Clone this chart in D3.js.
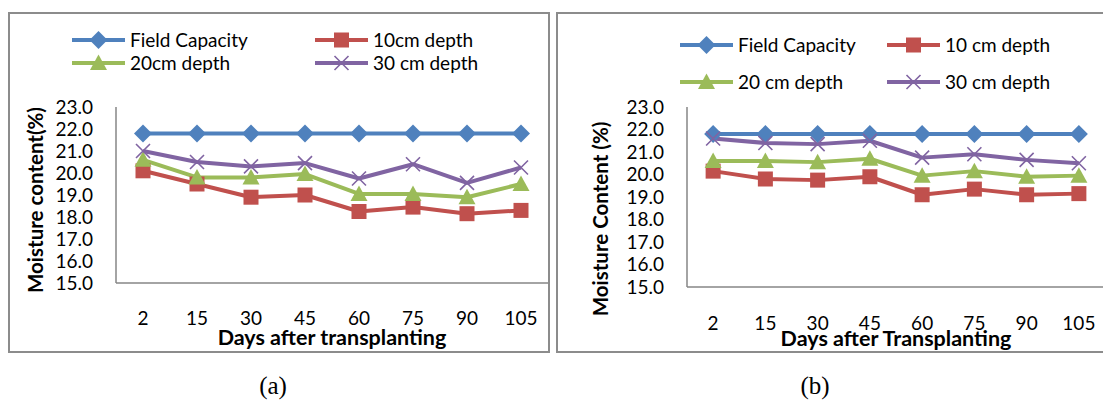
<!DOCTYPE html>
<html><head><meta charset="utf-8">
<script src="https://cdn.jsdelivr.net/npm/d3@7"></script>
<style>body{margin:0;background:#fff}svg{display:block}</style>
</head><body><svg id="c" width="1103" height="403"></svg>
<script>
const days = ["2","15","30","45","60","75","90","105"];
const yTicks = [15,16,17,18,19,20,21,22,23];
const seriesNames = ["Field Capacity","10cm depth","20cm depth","30 cm depth"];
const seriesNamesB = ["Field Capacity","10 cm depth","20 cm depth","30 cm depth"];
const fieldA = [21.8,21.8,21.8,21.8,21.8,21.8,21.8,21.8];
const d10A = [20.1,19.5,18.9,19.0,18.25,18.45,18.15,18.3];
const d20A = [20.6,19.8,19.8,19.95,19.05,19.05,18.9,19.5];
const d30A = [21.0,20.5,20.3,20.45,19.75,20.4,19.55,20.25];
const fieldB = [21.8,21.8,21.8,21.8,21.8,21.8,21.8,21.8];
const d10B = [20.15,19.8,19.75,19.9,19.1,19.35,19.1,19.15];
const d20B = [20.6,20.6,20.55,20.7,19.95,20.15,19.9,19.95];
const d30B = [21.6,21.4,21.35,21.5,20.75,20.9,20.65,20.5];

const colors = ["#4F81BD","#C0504D","#9BBB59","#8064A2"];
const markers = ["diamond","square","triangle","x"];
const svg = d3.select("#c");
const FONT = "Lato, 'Open Sans', sans-serif";

function marker(g, type, x, y, c) {
  if (type === "diamond") g.append("path").attr("d", `M${x},${y-9}L${x+9},${y}L${x},${y+9}L${x-9},${y}Z`).attr("fill", c);
  else if (type === "square") g.append("rect").attr("x", x-7.5).attr("y", y-7.5).attr("width",15).attr("height",15).attr("fill", c);
  else if (type === "triangle") g.append("path").attr("d", `M${x},${y-8.5}L${x+8.5},${y+7}L${x-8.5},${y+7}Z`).attr("fill", c);
  else {
    g.append("path").attr("d", `M${x-7},${y-7}L${x+7},${y+7}M${x-7},${y+7}L${x+7},${y-7}`).attr("stroke", c).attr("stroke-width",1.6).attr("fill","none");
  }
}

function panel(cfg) {
  const g = svg.append("g");
  g.append("rect").attr("x",cfg.bx).attr("y",cfg.by).attr("width",cfg.bw).attr("height",cfg.bh)
    .attr("fill","#fff").attr("stroke","#8c8c8c").attr("stroke-width",2);
  const x = d3.scaleBand().domain(days).range([cfg.left, cfg.right]);
  const y = d3.scaleLinear().domain([15,23]).range([cfg.bottom, cfg.top]);
  g.append("line").attr("x1",cfg.left).attr("x2",cfg.left).attr("y1",y(23)).attr("y2",y(15)).attr("stroke","#868686").attr("stroke-width",1.5);
  g.append("line").attr("x1",cfg.left).attr("x2",cfg.right).attr("y1",y(15)).attr("y2",y(15)).attr("stroke","#868686").attr("stroke-width",1.5);
  const ya = d3.axisLeft(y).tickValues(yTicks).tickFormat(d3.format(".1f")).tickSize(0).tickPadding(0);
  const yg = g.append("g").attr("transform",`translate(${cfg.yLabX},0)`).call(ya);
  yg.select(".domain").remove();
  yg.selectAll("text").attr("font-family",FONT).attr("font-size",19).attr("fill","#000");
  const xa = d3.axisBottom(x).tickSize(0).tickPadding(0);
  const xg = g.append("g").attr("transform",`translate(0,${cfg.xLabY})`).call(xa);
  xg.select(".domain").remove();
  xg.selectAll("text").attr("font-family",FONT).attr("font-size",19).attr("fill","#000").attr("dy","0.35em");
  g.append("text").attr("x",cfg.xtX).attr("y",cfg.xtY).attr("text-anchor","middle").attr("dy","0.35em")
    .attr("font-family",FONT).attr("font-weight","bold").attr("font-size",21.5).text(cfg.xTitle);
  g.append("text").attr("transform",`translate(${cfg.ytX},${cfg.ytY}) rotate(-90)`).attr("text-anchor","middle").attr("dy","0.35em")
    .attr("font-family",FONT).attr("font-weight","bold").attr("font-size",20.5).text(cfg.yTitle);
  const line = d3.line().x((d,i)=>x(days[i])+x.bandwidth()/2).y(d=>y(d));
  cfg.series.forEach((s,k)=>{
    g.append("path").datum(s).attr("d",line).attr("fill","none").attr("stroke",colors[k]).attr("stroke-width",4).attr("stroke-linejoin","round");
  });
  cfg.series.forEach((s,k)=>{
    s.forEach((v,i)=>marker(g, markers[k], x(days[i])+x.bandwidth()/2, y(v), colors[k]));
  });
  cfg.names.forEach((n,k)=>{
    const lx = cfg.legX[k%2], ly = cfg.legY[Math.floor(k/2)];
    g.append("line").attr("x1",lx).attr("x2",lx+53).attr("y1",ly).attr("y2",ly).attr("stroke",colors[k]).attr("stroke-width",4);
    marker(g, markers[k], lx+26.5, ly, colors[k]);
    g.append("text").attr("x",lx+58).attr("y",ly).attr("dy","0.35em").attr("font-family",FONT).attr("font-size",19).text(n);
  });
  g.append("text").attr("x",cfg.capX).attr("y",385).attr("text-anchor","middle").attr("dy","0.35em")
    .attr("font-family","'Liberation Serif', 'Times New Roman', serif").attr("font-size",25).text(cfg.cap);
}

panel({bx:9,by:13,bw:540,bh:339,left:116,right:548,top:107,bottom:283,yLabX:93,xLabY:318,
  xtX:332,xtY:337,ytX:36,ytY:200,xTitle:"Days after transplanting",yTitle:"Moisture content(%)",
  series:[fieldA,d10A,d20A,d30A],names:seriesNames,legX:[72,315],legY:[40,63],capX:273,cap:"(a)"});
panel({bx:557,by:13,bw:560,bh:339,left:687,right:1105,top:107,bottom:287,yLabX:664,xLabY:323,
  xtX:896,xtY:338,ytX:601,ytY:219,xTitle:"Days after Transplanting",yTitle:"Moisture Content (%)",
  series:[fieldB,d10B,d20B,d30B],names:seriesNamesB,legX:[680,887],legY:[45,82],capX:815,cap:"(b)"});
</script></body></html>
